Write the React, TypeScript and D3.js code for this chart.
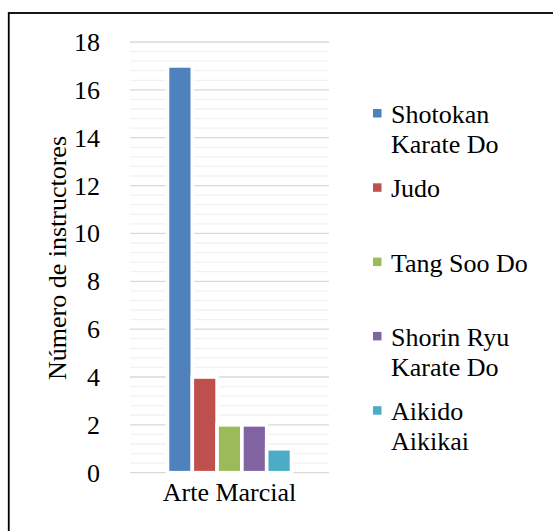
import React, { useEffect, useRef } from "react";
import * as d3 from "d3";

const categories = ["Arte Marcial"];
const seriesNames = [
  "Shotokan Karate Do",
  "Judo",
  "Tang Soo Do",
  "Shorin Ryu Karate Do",
  "Aikido Aikikai",
];
const seriesValues = [17, 4, 2, 2, 1];
const seriesColors = ["#4f81bd", "#c0504d", "#9bbb59", "#8064a2", "#4bacc6"];
const yTicks = [0, 2, 4, 6, 8, 10, 12, 14, 16, 18];
const yTitle = "N\u00famero de instructores";

const W = 553;
const H = 531;
const FONT = '"Times New Roman", "Liberation Serif", Tinos, serif';

// greedy word wrap by character count
function wrap(label: string, maxChars: number): string[] {
  const words = label.split(" ");
  const lines: string[] = [];
  let cur = "";
  for (const w of words) {
    const next = cur ? cur + " " + w : w;
    if (next.length > maxChars && cur) {
      lines.push(cur);
      cur = w;
    } else {
      cur = next;
    }
  }
  if (cur) lines.push(cur);
  return lines;
}

export default function App() {
  const ref = useRef<SVGSVGElement | null>(null);

  useEffect(() => {
    const svg = d3.select(ref.current);
    svg.selectAll("*").remove();

    const plotLeft = 130;
    const plotRight = 329;
    const y = d3.scaleLinear().domain([0, 18]).range([472.7, 42]);

    const xCat = d3
      .scaleBand<string>()
      .domain(categories)
      .range([plotLeft, plotRight])
      .paddingInner(0)
      .paddingOuter(0.3025);

    const xSeries = d3
      .scaleBand<string>()
      .domain(seriesNames)
      .range([0, xCat.bandwidth()])
      .padding(0);

    const minorTicks = d3
      .range(0, 18.0001, 0.4)
      .filter((v) => Math.abs(v / 2 - Math.round(v / 2)) > 1e-6);

    // frame
    svg
      .append("rect")
      .attr("x", 8.75)
      .attr("y", 13)
      .attr("width", 700)
      .attr("height", 700)
      .attr("fill", "none")
      .attr("stroke", "#000")
      .attr("stroke-width", 1.8);

    // gridlines
    const grid = (vals: number[], color: string) =>
      svg
        .append("g")
        .selectAll("line")
        .data(vals)
        .join("line")
        .attr("x1", plotLeft)
        .attr("x2", plotRight)
        .attr("y1", (d) => y(d))
        .attr("y2", (d) => y(d))
        .attr("stroke", color)
        .attr("stroke-width", 1.3);
    grid(minorTicks, "#f2f2f2");
    grid(yTicks, "#d9d9d9");

    // bars
    categories.forEach((c) => {
      svg
        .append("g")
        .attr("transform", `translate(${xCat(c)},0)`)
        .selectAll("rect")
        .data(seriesValues)
        .join("rect")
        .attr("x", (_, i) => xSeries(seriesNames[i]) as number)
        .attr("y", (d) => y(d))
        .attr("width", xSeries.bandwidth())
        .attr("height", (d) => y(0) - y(d))
        .attr("fill", (_, i) => seriesColors[i])
        .attr("stroke", "#fff")
        .attr("stroke-width", 3.6);
    });

    const styleText = (sel: any) =>
      sel
        .attr("font-family", FONT)
        .style("font-family", FONT)
        .style("font-size", "26px")
        .attr("fill", "#000");

    // y tick labels
    svg
      .append("g")
      .selectAll("text")
      .data(yTicks)
      .join("text")
      .attr("x", 100)
      .attr("y", (d) => y(d) + 9)
      .attr("text-anchor", "end")
      .text((d) => String(d))
      .call(styleText);

    // category label
    categories.forEach((c) => {
      svg
        .append("text")
        .attr("x", (xCat(c) as number) + xCat.bandwidth() / 2)
        .attr("y", 501)
        .attr("text-anchor", "middle")
        .text(c)
        .call(styleText);
    });

    // y axis title
    svg
      .append("text")
      .attr("transform", "translate(66,258) rotate(-90)")
      .attr("text-anchor", "middle")
      .text(yTitle)
      .call(styleText);

    // legend
    const legendX = 373;
    const legendFirstBaseline = 123;
    const legendStep = 74.3;
    const lineHeight = 30;
    seriesNames.forEach((s, i) => {
      const base = legendFirstBaseline + i * legendStep;
      const g = svg.append("g");
      g.append("rect")
        .attr("x", legendX)
        .attr("y", base - 14)
        .attr("width", 8.5)
        .attr("height", 8.5)
        .attr("fill", seriesColors[i]);
      const t = g.append("text").call(styleText);
      wrap(s, 12).forEach((ln, j) => {
        t.append("tspan")
          .attr("x", legendX + 18)
          .attr("y", base + j * lineHeight)
          .text(ln);
      });
    });
  }, []);

  return (
    <svg
      ref={ref}
      width={W}
      height={H}
      style={{ position: "absolute", left: 0, top: 0, display: "block", background: "#fff" }}
    />
  );
}
